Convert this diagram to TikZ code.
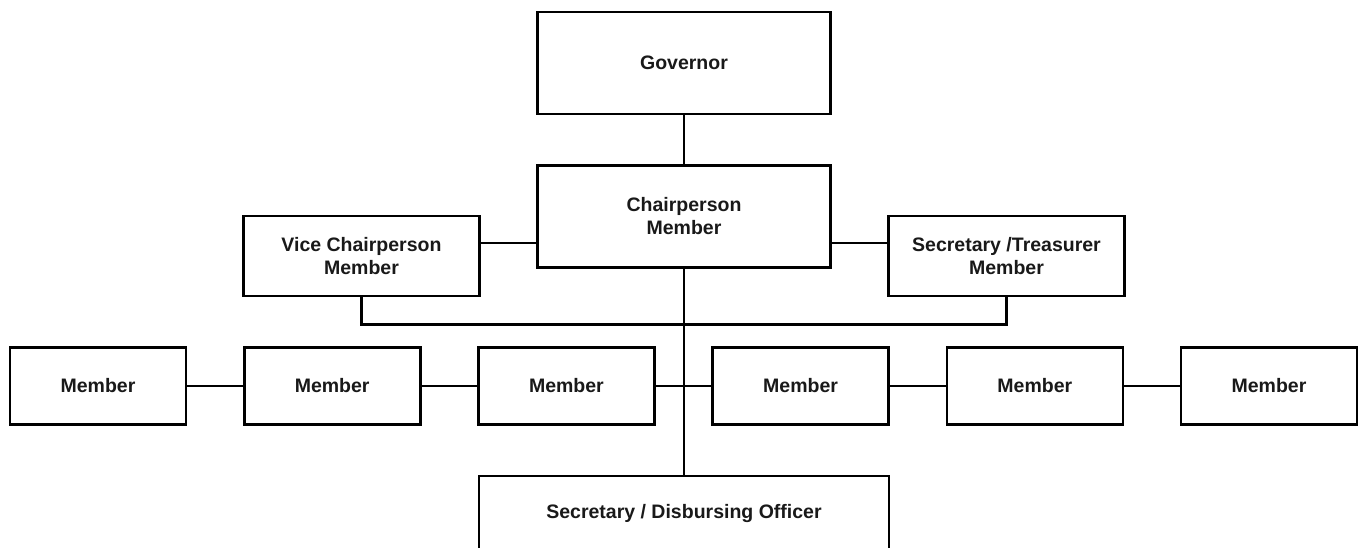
\documentclass[tikz,border=0pt]{standalone}
\usepackage{fontspec}
\setmainfont{Liberation Sans}
\usetikzlibrary{positioning}
\colorlet{lineColor}{black}
\colorlet{textColor}{black!90}
\tikzstyle{orgLine}=[draw=lineColor,line width=2.6pt]
\tikzstyle{orgBox}=[rectangle,orgLine,fill=white,inner sep=0pt,text=textColor,align=center,font=\bfseries\fontsize{19.5}{23}\selectfont]
\tikzstyle{headBox}=[orgBox,minimum width=293pt,minimum height=102pt]
\tikzstyle{sideBox}=[orgBox,minimum width=236pt,minimum height=80pt]
\tikzstyle{memberBox}=[orgBox,minimum width=176pt,minimum height=77pt]

\begin{document}
\begin{tikzpicture}[x=1pt,y=-1pt]
\newcommand{\Gapii}{234.2}
        \useasboundingbox (0,0) rectangle (1359,548);
        \clip (0,0) rectangle (1359,548);
        \node[headBox] (gov) at (684,63) {Governor};
        \node[headBox] (chair) at (684,216.5) {Chairperson\\Member};
        \node[sideBox] (vice) at (361.5,256) {Vice Chairperson\\Member};
        \node[sideBox] (sect) at (1006.5,256) {Secretary /Treasurer\\Member};
        \foreach \x in {1,...,6} {
                \node[memberBox] (m\x) 
                at ({98+\Gapii*(\x-1)},386) 
                {Member};
		}
        \node[orgBox,minimum width=410pt,minimum height=75pt] 
                (disb) at (684,513.5) {Secretary / Disbursing Officer};
        % connectors
        \draw[orgLine] (gov) -- (chair);
        \draw[orgLine] (chair.south) -- (disb.north);
        \draw[orgLine] ([yshift=13pt]vice.east) -- ([yshift=13pt]vice.east -| chair.west);
        \draw[orgLine] ([yshift=13pt]sect.west) -- ([yshift=13pt]sect.west -| chair.east);
        \draw[orgLine] (vice.south) -- ++(0,27) -| (sect.south);
        \foreach \x/\y in {1/2,2/3,3/4,4/5,5/6} {
                \draw[orgLine] (m\x) -- (m\y);
		}
\end{tikzpicture}
\end{document}
